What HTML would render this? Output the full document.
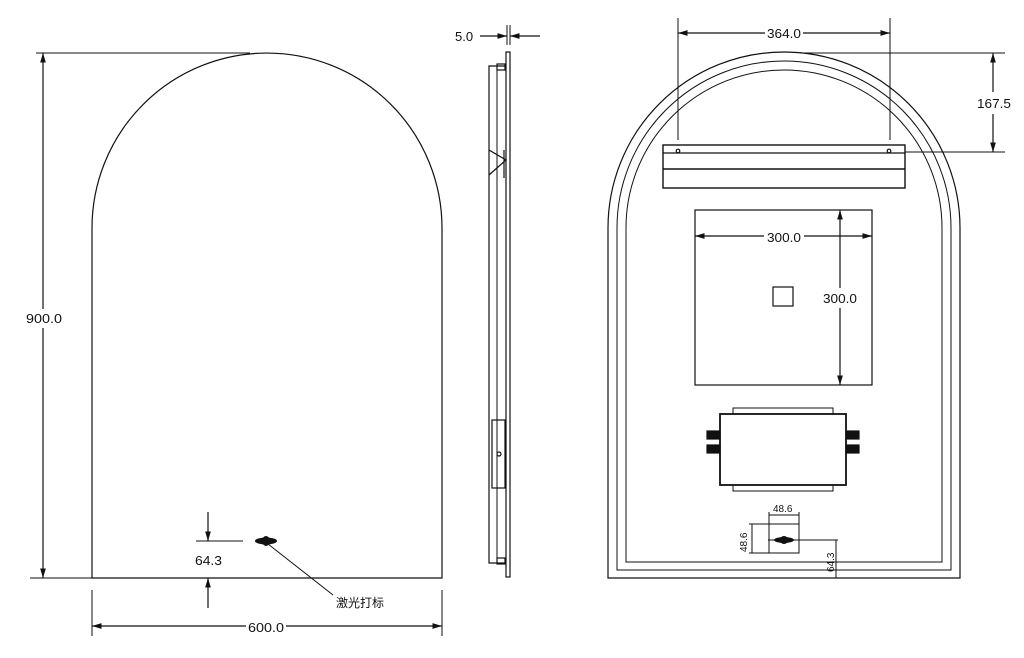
<!DOCTYPE html>
<html><head><meta charset="utf-8"><style>
html,body{margin:0;padding:0;background:#fff}
svg{display:block}
text{font-family:"Liberation Sans","Noto Sans CJK SC",sans-serif;font-size:13px;fill:#111}
</style></head><body>
<svg width="1024" height="658" viewBox="0 0 1024 658" xmlns="http://www.w3.org/2000/svg">
<defs>
<marker id="a" viewBox="0 0 10 10" refX="10" refY="5" markerWidth="8" markerHeight="8" orient="auto-start-reverse"><path d="M0,2 L10,5 L0,8 z" fill="#111"/></marker>
</defs>
<g stroke="#111" fill="none" stroke-width="1.2">
<!-- LEFT VIEW -->
<path d="M92,578 L92,228 A175,175 0 0 1 442,228 L442,578 Z"/>
<line x1="36" y1="53" x2="250" y2="53" stroke-width="1"/>
<line x1="30" y1="578" x2="92" y2="578" stroke-width="1"/>
<line x1="43" y1="53" x2="43" y2="310" marker-start="url(#a)"/>
<line x1="43" y1="328" x2="43" y2="578" marker-end="url(#a)"/>
<line x1="92" y1="590" x2="92" y2="636" stroke-width="1"/>
<line x1="442" y1="590" x2="442" y2="636" stroke-width="1"/>
<line x1="92" y1="626" x2="246" y2="626" marker-start="url(#a)"/>
<line x1="286" y1="626" x2="442" y2="626" marker-end="url(#a)"/>
<line x1="196" y1="541" x2="243" y2="541" stroke-width="1"/>
<line x1="208" y1="512" x2="208" y2="541" marker-end="url(#a)"/>
<line x1="208" y1="608" x2="208" y2="578" marker-end="url(#a)"/>
<line x1="196" y1="578" x2="230" y2="578" stroke-width="1"/>
<line x1="268" y1="544" x2="333" y2="595" stroke-width="1"/>
<!-- SIDE VIEW -->
<line x1="507" y1="25" x2="507" y2="45" stroke-width="1"/>
<line x1="510" y1="25" x2="510" y2="45" stroke-width="1"/>
<line x1="480" y1="36" x2="507" y2="36" marker-end="url(#a)"/>
<line x1="540" y1="36" x2="510" y2="36" marker-end="url(#a)"/>
<rect x="506" y="52" width="4" height="525"/>
<path d="M506,66 L489,66 L489,563 L506,563"/>
<line x1="497" y1="66" x2="497" y2="563" stroke-width="1"/>
<rect x="497" y="64" width="8" height="6"/>
<rect x="497" y="558" width="8" height="6"/>
<path d="M489,150 L506,160 L489,175 M504,150 L504,178"/>
<rect x="492" y="420" width="13" height="68"/>
<circle cx="499" cy="454" r="2"/>
<!-- RIGHT VIEW -->
<path d="M608,578 L608,228 A176,176 0 0 1 960,228 L960,578 Z"/>
<path d="M617,570 L617,228 A167,167 0 0 1 951,228 L951,570 Z" stroke-width="1"/>
<path d="M626,562 L626,228 A158,158 0 0 1 942,228 L942,562 Z" stroke-width="1"/>
<rect x="663" y="145" width="242" height="43" stroke-width="1.4"/>
<line x1="663" y1="153" x2="905" y2="153"/>
<line x1="663" y1="169" x2="905" y2="169" stroke-width="1.6"/>
<circle cx="678" cy="151" r="1.8"/><circle cx="889" cy="151" r="1.8"/>
<line x1="678" y1="18" x2="678" y2="140" stroke-width="1"/>
<line x1="890" y1="18" x2="890" y2="140" stroke-width="1"/>
<line x1="678" y1="33" x2="765" y2="33" marker-start="url(#a)"/>
<line x1="803" y1="33" x2="890" y2="33" marker-end="url(#a)"/>
<line x1="800" y1="53" x2="1005" y2="53" stroke-width="1"/>
<line x1="905" y1="152" x2="1005" y2="152" stroke-width="1"/>
<line x1="993" y1="53" x2="993" y2="92" marker-start="url(#a)"/>
<line x1="993" y1="114" x2="993" y2="152" marker-end="url(#a)"/>
<rect x="695" y="210" width="177" height="175"/>
<rect x="773" y="287" width="20" height="19"/>
<line x1="695" y1="236" x2="764" y2="236" marker-start="url(#a)"/>
<line x1="804" y1="236" x2="872" y2="236" marker-end="url(#a)"/>
<line x1="840" y1="210" x2="840" y2="288" marker-start="url(#a)"/>
<line x1="840" y1="308" x2="840" y2="385" marker-end="url(#a)"/>
<line x1="800" y1="385" x2="850" y2="385" stroke-width="1"/>
<rect x="733" y="408" width="100" height="6" stroke-width="1"/>
<rect x="733" y="485" width="100" height="6" stroke-width="1"/>
<rect x="720" y="414" width="126" height="71" stroke-width="1.8"/>
<rect x="707" y="431" width="13" height="8" fill="#111"/>
<rect x="707" y="445" width="13" height="8" fill="#111"/>
<rect x="846" y="431" width="13" height="8" fill="#111"/>
<rect x="846" y="445" width="13" height="8" fill="#111"/>
<rect x="769" y="524" width="30" height="29" stroke-width="1"/>
<line x1="769" y1="512" x2="769" y2="524" stroke-width="1"/>
<line x1="799" y1="512" x2="799" y2="524" stroke-width="1"/>
<line x1="769" y1="515" x2="799" y2="515" stroke-width="1"/>
<line x1="749" y1="524" x2="769" y2="524" stroke-width="1"/>
<line x1="749" y1="553" x2="769" y2="553" stroke-width="1"/>
<line x1="752" y1="524" x2="752" y2="553" stroke-width="1"/>
<line x1="768" y1="540" x2="805" y2="540" stroke-width="1"/>
<line x1="805" y1="540" x2="838" y2="540" stroke-width="1"/>
<line x1="836" y1="540" x2="836" y2="578" stroke-width="1"/>
<line x1="810" y1="578" x2="840" y2="578" stroke-width="1"/>
</g>
<g fill="#111">
<ellipse cx="266" cy="541" rx="11" ry="3.5"/>
<ellipse cx="266" cy="541" rx="4" ry="5"/>
<ellipse cx="784" cy="540" rx="10" ry="3"/>
<ellipse cx="784" cy="540" rx="4" ry="4"/>
</g>
<g>
<rect x="24" y="309" width="40" height="18" fill="#fff"/>
<text x="26" y="323" textLength="36" lengthAdjust="spacingAndGlyphs">900.0</text>
<text x="248" y="632" textLength="36" lengthAdjust="spacingAndGlyphs">600.0</text>
<text x="195" y="565" textLength="27" lengthAdjust="spacingAndGlyphs">64.3</text>
<text x="336" y="607" style="font-size:12px">激光打标</text>
<text x="455" y="41">5.0</text>
<text x="767" y="38" textLength="34" lengthAdjust="spacingAndGlyphs">364.0</text>
<text x="977" y="108" textLength="34" lengthAdjust="spacingAndGlyphs">167.5</text>
<text x="767" y="242" textLength="34" lengthAdjust="spacingAndGlyphs">300.0</text>
<rect x="822" y="289" width="36" height="18" fill="#fff"/>
<text x="823" y="303" textLength="34" lengthAdjust="spacingAndGlyphs">300.0</text>
<text x="773" y="512" style="font-size:10px">48.6</text>
<text x="0" y="0" style="font-size:10px" transform="translate(747,552) rotate(-90)">48.6</text>
<text x="0" y="0" style="font-size:10px" transform="translate(834,572) rotate(-90)">64.3</text>
</g>
</svg>
</body></html>
